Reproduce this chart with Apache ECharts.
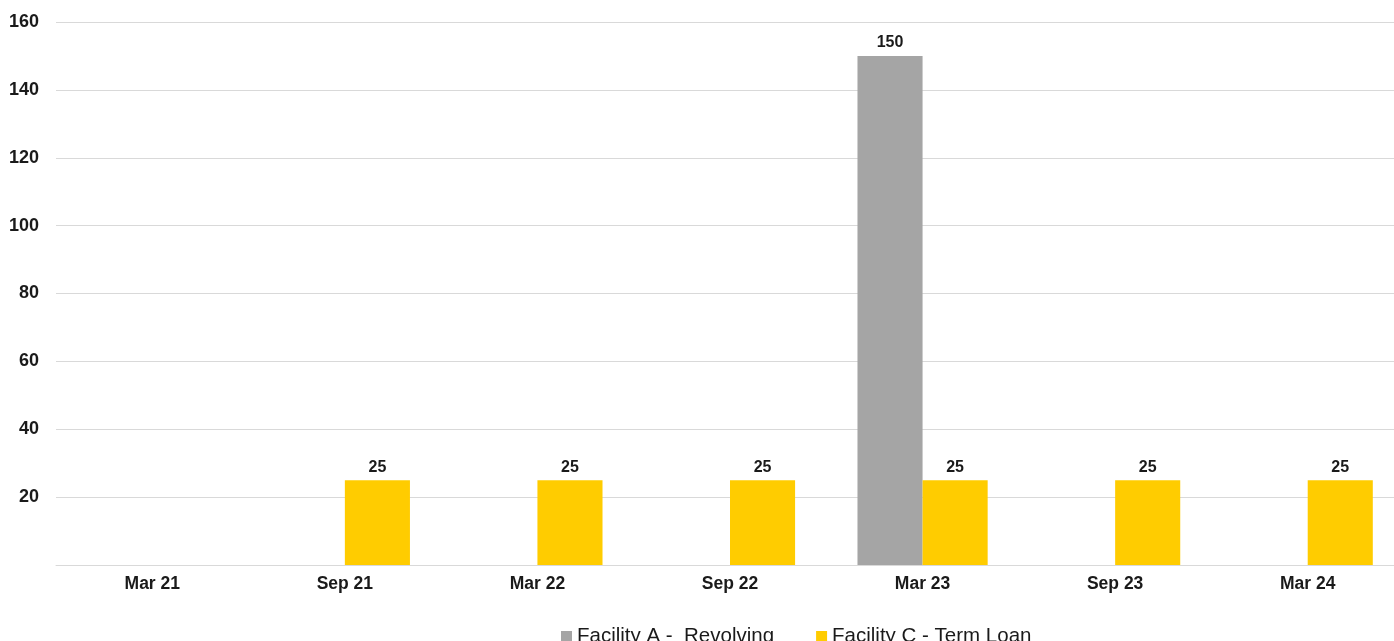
<!DOCTYPE html>
<html>
<head>
<meta charset="utf-8">
<script src="https://cdn.jsdelivr.net/npm/echarts@6/dist/echarts.min.js"></script>
<style>html,body{margin:0;padding:0;background:#fff;overflow:hidden;width:1394px;height:641px;}#c{width:1404px;height:641px;}</style>
</head>
<body>
<div id="c"></div>
<script>
const categories = ['Mar 21', 'Sep 21', 'Mar 22', 'Sep 22', 'Mar 23', 'Sep 23', 'Mar 24'];
const facilityA = [null, null, null, null, 150, null, null];
const facilityC = [null, 25, 25, 25, 25, 25, 25];
const seriesNames = ['Facility A -  Revolving', 'Facility C - Term Loan'];
const yTicks = { min: 0, max: 160, interval: 20 };

const chart = echarts.init(document.getElementById('c'));
const font = 'Liberation Sans, Arial, sans-serif';
const lbl = { show: true, position: 'top', distance: 5, color: '#1a1a1a', fontWeight: 'bold', fontSize: 16, fontFamily: font };
chart.setOption({
  animation: false,
  grid: { left: 56, right: 0, top: 22, bottom: 76, containLabel: false },
  legend: {
    data: seriesNames, left: 556, top: 621, itemWidth: 11, itemHeight: 11, itemGap: 42,
    icon: 'rect',
    textStyle: { fontFamily: font, fontSize: 20.5, color: '#1a1a1a' }
  },
  xAxis: {
    type: 'category', data: categories,
    axisLine: { lineStyle: { color: '#d9d9d9' } }, axisTick: { show: false },
    axisLabel: { color: '#1a1a1a', fontWeight: 'bold', fontSize: 17.5, fontFamily: font, margin: 10 }
  },
  yAxis: {
    type: 'value', min: yTicks.min, max: yTicks.max, interval: yTicks.interval,
    axisLine: { show: false }, axisTick: { show: false },
    splitLine: { lineStyle: { color: '#d9d9d9', width: 1 } },
    axisLabel: { color: '#1a1a1a', fontWeight: 'bold', fontSize: 18, fontFamily: font, margin: 17,
      formatter: v => v === 0 ? '' : v }
  },
  series: [
    { name: seriesNames[0], type: 'bar', data: facilityA, barWidth: '33.8%', barGap: '0%', itemStyle: { color: '#A5A5A5' }, label: lbl },
    { name: seriesNames[1], type: 'bar', data: facilityC, barWidth: '33.8%', itemStyle: { color: '#FFCC00' }, label: lbl }
  ]
});
</script>
</body>
</html>
